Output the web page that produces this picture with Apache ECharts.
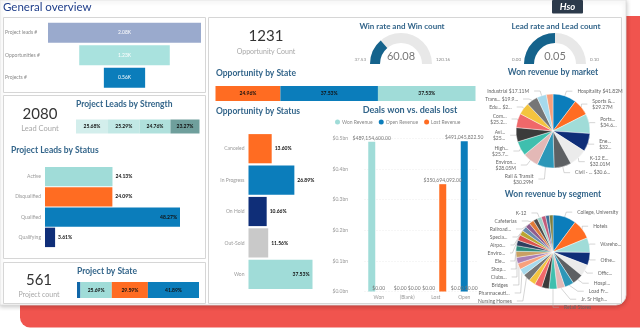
<!DOCTYPE html>
<html>
<head>
<meta charset="utf-8">
<script src="https://cdn.jsdelivr.net/npm/echarts@6/dist/echarts.min.js"></script>
<style>
html,body{margin:0;padding:0;background:#fff;}
#c{width:640px;height:328px;}
</style>
</head>
<body>
<div id="c"></div>
<script>
// ---- Pipeline funnel ----
const funnelStages = ['Project leads #', 'Opportunities #', 'Projects #'];
const funnelValues = [2080, 1231, 561];

// ---- Leads ----
const leadCount = 2080;
const strengthShares = [25.68, 25.29, 24.76, 23.27];
const leadStatusCats = ['Active', 'Disqualified', 'Qualified', 'Qualifying'];
const leadStatusShares = [24.13, 24.09, 48.27, 3.61];

// ---- Projects ----
const projectCount = 561;
const projectStateShares = [2.83, 25.69, 29.59, 41.89];

// ---- Opportunities ----
const opportunityCount = 1231;
const oppStateShares = [24.96, 37.53, 37.53];
const oppStatusCats = ['Canceled', 'In Progress', 'On Hold', 'Out-Sold', 'Won'];
const oppStatusShares = [13.60, 26.89, 10.66, 11.56, 37.53];

// ---- Gauges ----
const winRate = 60.08, winMin = 37.53, winMax = 120.16;
const leadRate = 0.05, leadMin = 0, leadMax = 0.10;

// ---- Deals won vs lost ----
const dealCats = ['Won', '(Blank)', 'Lost', 'Open'];
const wonRevenue = [489154600, 0, 0, 0];
const openRevenue = [0, 0, 0, 491045822.5];
const lostRevenue = [0, 0, 350694092, 0];
const dealTicks = [0, 0.5e9, 0.1e9]; // min, max, step

// ---- Won revenue by market ($M) ----
const marketNames = ['Hospitality', 'Sports &...', 'Ports...', 'Ene...', 'K-12 E...', 'Civil - ...',
  'Rail & Transit', 'Environ...', 'High...', 'Avi...', 'Com...', 'Edu...', 'Trans...', 'Industrial', ''];
const marketValues = [41.82, 29.27, 34.6, 32.4, 32.01, 30.6, 30.29, 28.05, 25.7, 25.3, 25.2, 21.5, 19.9, 17.11, 11.5];
const marketLabels = ['Hospitality $41.82M', 'Sports &...\n$29.27M', 'Ports...\n$34.6...', 'Ene...\n$32...',
  'K-12 E...\n$32.01M', 'Civil - ... $30.6...', 'Rail & Transit\n$30.29M', 'Environ...\n$28.05M',
  'High...\n$25.7...', 'Avi...\n$25...', 'Com...\n$25.2...', 'Edu... $2...', 'Trans... $19.9...',
  'Industrial $17.11M', ''];

// ---- Won revenue by segment ($M) ----
const segmentNames = ['College, University', 'Hotels', 'Wareho...', 'Othe...', 'Offic...', 'Hospi...',
  'Load Fr...', 'Jr. Sr High...', 'Retail Stores', '', '', '', 'Nursing Homes', 'Pharmaceuti...', 'Bridges',
  'Clubs...', 'Shop...', 'Ele...', '', 'Enviro...', 'Airpo...', 'Specia...', 'Railroad...', 'Cafeterias',
  '', 'K-12', '', '', ''];
const segmentValues = [38, 32, 24, 21, 19, 18, 15, 13, 13, 12, 12, 11, 12, 11, 10,
  10, 10, 9, 9, 9, 8, 8, 8, 8, 7, 7, 7, 6, 6];

// ---- Styling ----
const FONT = 'Lato';
const TITLE = '#33658a';
const C = {
  teal: '#a0dcd8', orange: '#ff6c22', blue: '#0b7dbb', navy: '#0f2e78',
  gray: '#c9c9c9', lav: '#9aaacd', dial: '#15638c', track: '#e8e8e8'
};
const palette = ['#0b7dbb', '#ff6c22', '#a0dcd8', '#0f2e78', '#ebebeb', '#5d6063', '#2d97b8', '#e3b8b6',
  '#3fbfae', '#3b3b3b', '#f0686a', '#f3c43f', '#767676', '#a6d9ec', '#f7a07c', '#a77fb6', '#c9a064',
  '#2f8f7f', '#2e3f5f', '#d9534f', '#b9a631', '#6a8caf', '#8e5c8e', '#e07b39', '#4d4d4d', '#9ed0c9',
  '#c25b7a', '#3d6f99', '#7f7f3f'];

const tinyLabel = { fontFamily: FONT, fontSize: 5, color: '#999' };
const boldLabel = { fontFamily: FONT, fontSize: 5, fontWeight: 'bold', color: '#111' };
const pct = p => p.value.toFixed(2) + '%';
const sum = a => a.reduce((s, v) => s + v, 0);

// ---- Grids ----
const grids = [
  { left: 48, top: 21.5, width: 153, height: 67.5 },    // 0 funnel
  { left: 76, top: 119.5, width: 123.5, height: 14 },   // 1 lead strength
  { left: 45, top: 166.5, width: 135, height: 81 },     // 2 lead status
  { left: 77, top: 282, width: 122, height: 16 },       // 3 project state
  { left: 215.5, top: 86, width: 260, height: 15 },     // 4 opportunity state
  { left: 248.5, top: 133, width: 64, height: 157 },    // 5 opportunity status
  { left: 364.5, top: 138.5, width: 114, height: 153 }  // 6 deals
];

function valueAxis(gi, max) {
  return { type: 'value', gridIndex: gi, min: 0, max: max, show: false };
}
function catAxis(gi, cats, label) {
  return {
    type: 'category', gridIndex: gi, data: cats, inverse: true,
    axisLine: { show: false }, axisTick: { show: false }, splitLine: { show: false },
    axisLabel: label ? Object.assign({}, tinyLabel, label) : { show: false }
  };
}

const xAxis = [
  valueAxis(0, Math.max(...funnelValues)),
  valueAxis(1, sum(strengthShares)),
  valueAxis(2, Math.max(...leadStatusShares)),
  valueAxis(3, sum(projectStateShares)),
  valueAxis(4, sum(oppStateShares)),
  valueAxis(5, Math.max(...oppStatusShares)),
  {
    type: 'category', gridIndex: 6, data: dealCats,
    axisLine: { show: false }, axisTick: { show: false },
    axisLabel: Object.assign({}, tinyLabel, { margin: 3 })
  }
];
const yAxis = [
  catAxis(0, funnelStages, { align: 'left', margin: 43, color: '#8a8a8a' }),
  catAxis(1, ['']),
  catAxis(2, leadStatusCats, { margin: 4 }),
  catAxis(3, ['']),
  catAxis(4, ['']),
  catAxis(5, oppStatusCats, { margin: 4 }),
  {
    type: 'value', gridIndex: 6, min: dealTicks[0], max: dealTicks[1], interval: dealTicks[2],
    axisLine: { show: false }, axisTick: { show: false },
    splitLine: { lineStyle: { color: '#e2e2e2', width: 0.6, type: [1, 2] } },
    axisLabel: Object.assign({}, tinyLabel, {
      align: 'left', margin: 32,
      formatter: v => '$' + (v / 1e9).toFixed(1) + 'bn'
    })
  }
];

const series = [];

// funnel: centred bars via a transparent offset stack
const funnelMax = Math.max(...funnelValues);
const funnelColors = [C.lav, '#a9e2de', C.blue];
series.push({
  type: 'bar', xAxisIndex: 0, yAxisIndex: 0, stack: 'funnel', silent: true,
  barCategoryGap: '11%', itemStyle: { color: 'transparent' },
  data: funnelValues.map(v => (funnelMax - v) / 2)
});
series.push({
  type: 'bar', xAxisIndex: 0, yAxisIndex: 0, stack: 'funnel', barCategoryGap: '11%',
  data: funnelValues.map((v, i) => ({ value: v, itemStyle: { color: funnelColors[i] } })),
  label: {
    show: true, position: 'inside', fontFamily: FONT, fontSize: 5, color: '#fff',
    formatter: p => (p.value / 1000).toFixed(2) + 'K'
  }
});

// single-row 100% stacked bars
function stackedRow(gi, shares, colors, stackName) {
  shares.forEach((v, i) => {
    series.push({
      type: 'bar', xAxisIndex: gi, yAxisIndex: gi, stack: stackName, barCategoryGap: '0%',
      data: [v], itemStyle: { color: colors[i] },
      label: Object.assign({ show: v > 5, position: 'inside', formatter: pct }, boldLabel)
    });
  });
}
stackedRow(1, strengthShares, ['#d3eeec', '#c1e8e5', '#afe0dc', '#6f9f9c'], 'strength');
stackedRow(3, projectStateShares, ['#1066a8', C.teal, C.orange, C.blue], 'projState');
stackedRow(4, oppStateShares, [C.orange, C.blue, C.teal], 'oppState');

// horizontal category bars with value labels
function statusBars(gi, shares, colors, gap) {
  const top = Math.max(...shares);
  series.push({
    type: 'bar', xAxisIndex: gi, yAxisIndex: gi, barCategoryGap: gap,
    data: shares.map((v, i) => ({
      value: v, itemStyle: { color: colors[i] },
      label: { position: v === top ? 'insideRight' : 'right' }
    })),
    label: Object.assign({ show: true, distance: 3, formatter: pct }, boldLabel)
  });
}
statusBars(2, leadStatusShares, [C.teal, C.orange, C.blue, C.navy], '4%');
statusBars(5, oppStatusShares, [C.orange, C.blue, C.navy, C.gray, C.teal], '7%');

// deals won vs lost
const money = p => '$' + p.value.toLocaleString('en-US', { minimumFractionDigits: 2, maximumFractionDigits: 2 });
[['Won Revenue', wonRevenue, C.teal], ['Open Revenue', openRevenue, C.blue], ['Lost Revenue', lostRevenue, C.orange]]
  .forEach(([name, data, color]) => {
    series.push({
      type: 'bar', name: name, xAxisIndex: 6, yAxisIndex: 6, data: data,
      barWidth: 7, barGap: '0%', itemStyle: { color: color },
      label: Object.assign({}, tinyLabel, { show: true, position: 'top', distance: 1, color: '#777', formatter: money }),
      labelLayout: { hideOverlap: true }
    });
  });

// gauges
function gauge(cx, value, min, max) {
  return {
    type: 'gauge', center: [cx, 64], radius: 31, startAngle: 180, endAngle: 0,
    min: min, max: max, splitNumber: 1,
    axisLine: { lineStyle: { width: 10, color: [[1, C.track]] } },
    progress: { show: true, width: 10, itemStyle: { color: C.dial } },
    pointer: { show: false }, anchor: { show: false },
    axisTick: { show: false }, splitLine: { show: false }, axisLabel: { show: false },
    title: { show: false },
    detail: {
      offsetCenter: [0, -8], fontFamily: FONT, fontSize: 11, fontWeight: 'normal', color: '#777',
      formatter: v => v.toFixed(2)
    },
    data: [{ value: value }]
  };
}
series.push(gauge(401, winRate, winMin, winMax));
series.push(gauge(555, leadRate, leadMin, leadMax));

// pies
function pie(cy, names, values, labels) {
  return {
    type: 'pie', center: [553, cy], radius: 37, startAngle: 90, clockwise: true,
    avoidLabelOverlap: true,
    itemStyle: { borderColor: '#fff', borderWidth: 0.4 },
    label: { fontFamily: FONT, fontSize: 5, lineHeight: 6, color: '#666' },
    labelLine: { length: 5, length2: 6, lineStyle: { color: '#aaa', width: 0.5 } },
    data: values.map((v, i) => {
      const text = labels[i];
      const item = { name: names[i] || ('#' + i), value: v, itemStyle: { color: palette[i % palette.length] } };
      if (!text) {
        item.label = { show: false };
        item.labelLine = { show: false };
      } else {
        item.label = { formatter: () => text };
      }
      return item;
    })
  };
}
series.push(pie(131, marketNames, marketValues, marketLabels));
series.push(pie(252, segmentNames, segmentValues, segmentNames));

// ---- Frame, panels and text ----
function txt(text, x, y, size, color, opts) {
  const o = opts || {};
  return {
    type: 'text', x: x, y: y, z: 10, silent: true,
    style: {
      text: text, fill: color, fontFamily: FONT, fontSize: size, fontWeight: o.weight || 'normal',
      fontStyle: o.style || 'normal',
      align: o.align || 'left', verticalAlign: 'middle',
      textAlign: o.align || 'left', textVerticalAlign: 'middle'
    }
  };
}
function panel(x, y, w, h) {
  return {
    type: 'rect', z: -5, silent: true, shape: { x: x, y: y, width: w, height: h },
    style: { fill: '#fff', stroke: '#d6d6d6', lineWidth: 1 }
  };
}

const graphic = [
  { type: 'rect', z: -20, silent: true, shape: { x: 20, y: 16, width: 640, height: 311.5, r: 10 },
    style: { fill: '#f0544e' } },
  { type: 'rect', z: -10, silent: true, shape: { x: 0, y: 0, width: 626, height: 305, r: [0, 0, 10, 0] },
    style: { fill: '#fff', stroke: '#dedede', lineWidth: 0.8, shadowBlur: 5, shadowColor: 'rgba(0,0,0,0.25)', shadowOffsetY: 1 } },
  panel(3.5, 17.5, 202, 75),
  panel(3.5, 95.5, 202, 163),
  panel(3.5, 262.5, 202, 41),
  panel(208.5, 17.5, 413, 286),
  { type: 'rect', z: 5, silent: true, shape: { x: 552, y: 0, width: 31, height: 13.5, r: 1 },
    style: { fill: '#2c3a4b' } },
  txt('Hso', 567.5, 7, 9.5, '#fff', { align: 'center', weight: 'bold', style: 'italic' }),
  txt('General overview', 3, 7.5, 11.5, '#1f3e8a'),

  txt(String(leadCount), 40, 114, 15, '#333', { align: 'center' }),
  txt('Lead Count', 40, 129, 7.5, '#a8a8a8', { align: 'center' }),
  txt('Project Leads by Strength', 76, 104, 8.5, TITLE, { weight: 'bold' }),
  txt('Project Leads by Status', 11, 150, 8.5, TITLE, { weight: 'bold' }),

  txt(String(projectCount), 39, 280, 15, '#333', { align: 'center' }),
  txt('Project count', 39, 295, 7, '#a8a8a8', { align: 'center' }),
  txt('Project by State', 77, 271, 8.5, TITLE, { weight: 'bold' }),

  txt(String(opportunityCount), 266, 36, 15, '#333', { align: 'center' }),
  txt('Opportunity Count', 266, 52, 7, '#a8a8a8', { align: 'center' }),
  txt('Opportunity by State', 216, 73, 8.5, TITLE, { weight: 'bold' }),
  txt('Opportunity by Status', 216, 111, 8.5, TITLE, { weight: 'bold' }),

  txt('Win rate and Win count', 402, 26, 8, TITLE, { align: 'center', weight: 'bold' }),
  txt(winMin.toFixed(2), 366, 60, 4.5, '#888', { align: 'right' }),
  txt(winMax.toFixed(2), 436, 60, 4.5, '#888'),
  txt('Lead rate and Lead count', 556, 26, 8, TITLE, { align: 'center', weight: 'bold' }),
  txt(leadMin.toFixed(2), 521, 60, 4.5, '#888', { align: 'right' }),
  txt(leadMax.toFixed(2), 590, 60, 4.5, '#888'),

  txt('Deals won vs. deals lost', 410, 110, 9, TITLE, { align: 'center', weight: 'bold' }),
  txt('Won revenue by market', 553, 72, 8.5, TITLE, { align: 'center', weight: 'bold' }),
  txt('Won revenue by segment', 553, 194, 8.5, TITLE, { align: 'center', weight: 'bold' })
];

const chart = echarts.init(document.getElementById('c'));
chart.setOption({
  animation: false,
  backgroundColor: '#fff',
  textStyle: { fontFamily: FONT },
  grid: grids,
  xAxis: xAxis,
  yAxis: yAxis,
  legend: {
    data: ['Won Revenue', 'Open Revenue', 'Lost Revenue'],
    left: 335, top: 119.5, padding: 0, icon: 'circle', itemWidth: 5, itemHeight: 5, itemGap: 6,
    textStyle: { fontFamily: FONT, fontSize: 5, color: '#888', padding: [0, 0, 0, -3] }
  },
  series: series,
  graphic: graphic
});
</script>
</body>
</html>
